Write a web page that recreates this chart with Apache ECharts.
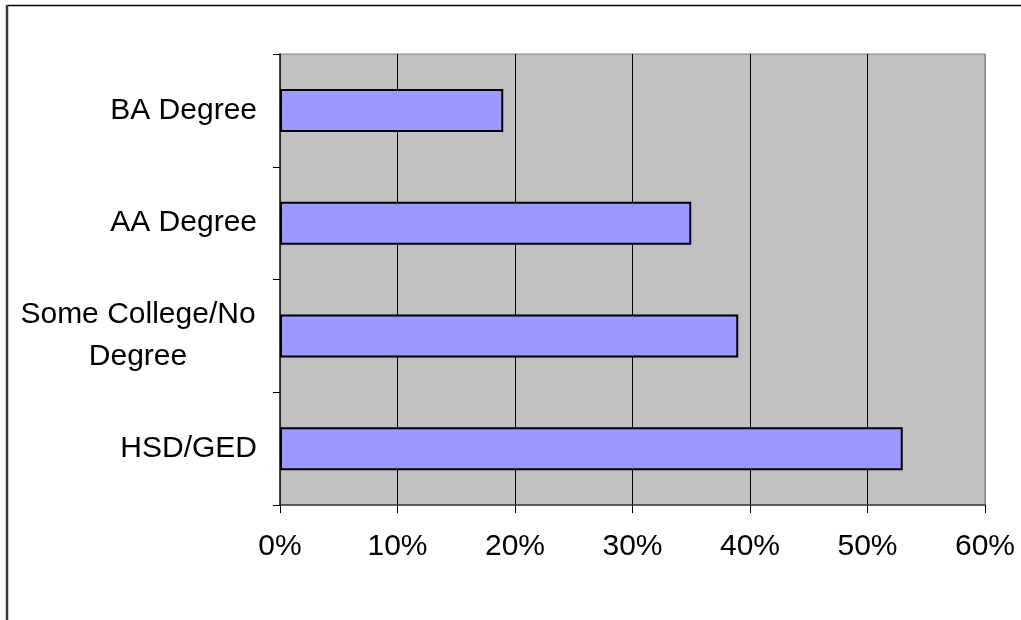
<!DOCTYPE html>
<html>
<head>
<meta charset="utf-8">
<script src="https://cdn.jsdelivr.net/npm/echarts@6/dist/echarts.min.js"></script>
<style>
  html, body { margin: 0; padding: 0; background: #ffffff; }
  #chart { width: 1021px; height: 620px; }
</style>
</head>
<body>
<div id="chart"></div>
<script>
// Education level categories, listed bottom to top
const categories = ['HSD/GED', 'Some College/No Degree', 'AA Degree', 'BA Degree'];
// Share for each category, in percent
const values = [53, 39, 35, 19];
// Percent axis
const axisMin = 0;
const axisMax = 60;
const axisStep = 10;

const FONT = '"Liberation Sans", Arial, sans-serif';

const chart = echarts.init(document.getElementById('chart'), null, { renderer: 'canvas' });

chart.setOption({
  animation: false,
  backgroundColor: '#ffffff',
  graphic: [
    // outer chart frame (top and left edges)
    { type: 'line', shape: { x1: 7, y1: 5.5, x2: 1030, y2: 5.5 }, style: { stroke: '#000000', lineWidth: 1.5 }, z: 10 },
    { type: 'line', shape: { x1: 7, y1: 5, x2: 7, y2: 640 }, style: { stroke: '#3a3a3a', lineWidth: 2.5 }, z: 10 }
  ],
  grid: {
    left: 280, right: 36, top: 54, bottom: 115,
    show: true,
    backgroundColor: '#c0c0c0',
    borderColor: '#808080',
    borderWidth: 1
  },
  xAxis: {
    type: 'value',
    min: axisMin, max: axisMax, interval: axisStep,
    axisLine: { show: true, lineStyle: { color: '#404040', width: 1.5 } },
    axisTick: { show: true, length: 8, lineStyle: { color: '#000000' } },
    axisLabel: {
      margin: 27,
      fontFamily: FONT, fontSize: 30, color: '#000000',
      formatter: v => v + '%'
    },
    splitLine: {
      show: true,
      lineStyle: { color: ['#404040', '#000000', '#000000', '#000000', '#000000', '#000000', '#808080'], width: 1 }
    }
  },
  yAxis: {
    type: 'category',
    data: categories,
    axisLine: { show: true, lineStyle: { color: '#202020', width: 1.5 } },
    axisTick: { show: true, length: 7, lineStyle: { color: '#000000' } },
    axisLabel: {
      margin: 23,
      fontFamily: FONT, fontSize: 30, color: '#000000',
      formatter: function (name) {
        if (name === 'Some College/No Degree') {
          return '{c|Some College/No}\n{c|Degree}';
        }
        return name;
      },
      rich: {
        c: { fontFamily: FONT, fontSize: 30, color: '#000000', width: 238, align: 'center', lineHeight: 42 }
      }
    }
  },
  series: [{
    type: 'bar',
    data: values,
    barWidth: 43,
    itemStyle: { color: '#9999ff', borderColor: '#000000', borderWidth: 2 }
  }]
});
</script>
</body>
</html>
